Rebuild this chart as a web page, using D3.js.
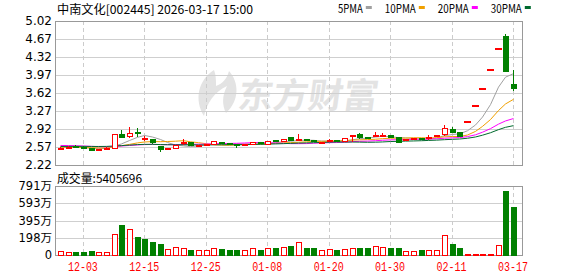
<html>
<head>
<meta charset="utf-8">
<script src="https://d3js.org/d3.v7.min.js"></script>
<style>
  body { margin: 0; background: #fff; }
  text { font-family: "DejaVu Sans", sans-serif; }
  .cjk { font-family: "Noto Sans CJK SC", sans-serif; }
</style>
</head>
<body>
<script>
// trading days shown (MM-DD)
const dates = ['11-28','12-01','12-02','12-03','12-04','12-05','12-08','12-09','12-10','12-11',
  '12-12','12-15','12-16','12-17','12-18','12-19','12-22','12-23','12-24','12-25',
  '12-26','12-29','12-30','12-31','01-05','01-06','01-07','01-08','01-09','01-12',
  '01-13','01-14','01-15','01-16','01-19','01-20','01-21','01-22','01-23','01-26',
  '01-27','01-28','01-29','01-30','02-02','02-03','02-04','02-05','02-06','02-09',
  '02-10','02-11','02-12','02-13','03-10','03-11','03-12','03-13','03-16','03-17'];

const opens = [2.53,2.55,2.58,2.57,2.54,2.50,2.53,2.55,2.81,2.77,
  2.86,2.73,2.72,2.58,2.53,2.55,2.64,2.65,2.58,2.60,
  2.62,2.65,2.64,2.62,2.60,2.62,2.66,2.62,2.69,2.68,
  2.75,2.70,2.72,2.69,2.64,2.69,2.69,2.68,2.77,2.81,
  2.76,2.77,2.79,2.79,2.75,2.70,2.72,2.74,2.74,2.79,
  2.81,2.91,2.85,3.06,3.36,3.70,4.07,4.48,4.71,3.78];
const highs = [2.57,2.58,2.60,2.58,2.55,2.54,2.57,2.82,2.90,2.95,
  2.93,2.78,2.73,2.59,2.55,2.60,2.72,2.66,2.60,2.63,
  2.69,2.66,2.65,2.63,2.63,2.67,2.67,2.68,2.71,2.73,
  2.77,2.82,2.73,2.70,2.66,2.72,2.70,2.74,2.80,2.84,
  2.77,2.86,2.85,2.80,2.76,2.73,2.75,2.75,2.80,2.81,
  3.00,2.95,2.86,3.06,3.36,3.70,4.07,4.48,4.77,4.07];
const lows = [2.51,2.54,2.55,2.54,2.49,2.49,2.52,2.54,2.75,2.74,
  2.77,2.68,2.63,2.47,2.52,2.54,2.61,2.58,2.57,2.59,
  2.61,2.62,2.61,2.56,2.59,2.61,2.63,2.60,2.66,2.67,
  2.69,2.69,2.68,2.66,2.63,2.68,2.67,2.67,2.66,2.73,
  2.74,2.76,2.78,2.75,2.65,2.69,2.71,2.72,2.70,2.77,
  2.78,2.85,2.77,3.06,3.36,3.70,4.07,4.48,4.02,3.65];
const closes = [2.55,2.56,2.57,2.55,2.50,2.53,2.55,2.81,2.76,2.83,
  2.84,2.73,2.66,2.52,2.54,2.59,2.65,2.59,2.59,2.62,
  2.67,2.64,2.62,2.60,2.62,2.66,2.64,2.67,2.68,2.72,
  2.70,2.72,2.69,2.67,2.65,2.70,2.68,2.73,2.79,2.76,
  2.75,2.79,2.80,2.76,2.66,2.72,2.74,2.73,2.75,2.80,
  2.93,2.86,2.78,3.06,3.36,3.70,4.07,4.48,4.03,3.70];
// closes before the visible window, needed for the moving averages
const prevCloses = [2.52,2.55,2.53,2.56,2.54,2.51,2.55,2.57,2.53,2.54,
  2.60,2.64,2.66,2.62,2.65,2.61,2.63,2.64,2.62,2.63,
  2.60,2.58,2.59,2.57,2.56,2.57,2.55,2.56,2.57];

// volume in 万 shares, and colour of each volume bar (r = up, g = down)
const volumes = [35,25,28,28,38,25,25,230,333,287,
  206,172,149,126,65,84,76,57,46,46,
  73,65,57,50,46,73,57,76,69,88,
  92,149,80,69,54,65,57,65,76,80,
  69,99,88,69,69,42,42,46,57,57,
  225,115,80,8,6,7,8,111,733,540.5696];
const volDir = 'rrgggrrrgrggggrrrgrrrgggrrgrgrgrggrrgrrggrrggrrgrrrggrrrrrgg';

const priceTicks = [2.22,2.57,2.92,3.27,3.62,3.97,4.32,4.67,5.02];
const volTicks = [0,198,395,593,791];
const xTicks = ['12-03','12-15','12-25','01-08','01-20','01-30','02-11','03-17'];
const maNames = ['5PMA','10PMA','20PMA','30PMA'];
const maPeriods = [5,10,20,30];
const maColors = ['#a0a0a0','#f0a000','#ff00ff','#006a2e'];

const W = 578, H = 276;
const L = 55, R = 522, T1 = 21, B1 = 165, T2 = 186, B2 = 255;
const RED = '#ff0000', GREEN = '#008000';

const svg = d3.select('body').append('svg')
  .attr('width', W).attr('height', H);

const x = d3.scaleBand().domain(dates).range([56, 56 + 7.68 * dates.length]);
const cx = d => Math.round(x(d) + x.bandwidth() / 2) + 0.5;
const y = d3.scaleLinear().domain([2.22, 5.02]).range([B1, T1]);
const yv = d3.scaleLinear().domain([0, 791]).range([B2, T2]);

// watermark
const wm = svg.append('g').attr('fill', '#e3e3e3');
wm.append('path')
  .attr('d', 'M214,70 C198,80 194,100 204,116 C207,103 214,92 227,86 C222,96 222,105 226,113 C240,100 239,82 229,71 C227,79 222,84 216,86 C216,80 216,75 214,70 Z');
wm.append('text').attr('class', 'cjk')
  .attr('x', 238).attr('y', 108)
  .attr('font-size', 35).attr('font-weight', 'bold')
  .attr('transform', 'skewX(-8) translate(14,0)')
  .style('font-family', '"Noto Sans CJK SC"')
  .text('东方财富');

// horizontal grid
svg.append('g').selectAll('line')
  .data(priceTicks.slice(1, -1)).join('line')
  .attr('x1', L).attr('x2', R)
  .attr('y1', d => Math.round(y(d)) + 0.5).attr('y2', d => Math.round(y(d)) + 0.5)
  .attr('stroke', '#cfcfcf');
svg.append('g').selectAll('line')
  .data(volTicks.slice(1, -1)).join('line')
  .attr('x1', L).attr('x2', R)
  .attr('y1', d => Math.round(yv(d)) + 0.5).attr('y2', d => Math.round(yv(d)) + 0.5)
  .attr('stroke', '#cfcfcf');

// vertical dashed grid
[[T1, B1], [T2, B2]].forEach(([t, b]) => {
  svg.append('g').selectAll('line')
    .data(xTicks).join('line')
    .attr('x1', d => cx(d)).attr('x2', d => cx(d))
    .attr('y1', t).attr('y2', b)
    .attr('stroke', '#cccccc').attr('stroke-dasharray', '4,3');
});

// plot frames
[[T1, B1], [T2, B2]].forEach(([t, b]) => {
  svg.append('rect')
    .attr('x', L + 0.5).attr('y', t + 0.5)
    .attr('width', R - L).attr('height', b - t)
    .attr('fill', 'none').attr('stroke', '#999');
});

// axes
const yAxis = d3.axisLeft(y).tickValues(priceTicks).tickSize(0).tickPadding(3)
  .tickFormat(d3.format('.2f'));
svg.append('g').attr('transform', `translate(${L},0)`).call(yAxis)
  .call(g => g.select('.domain').remove())
  .selectAll('text').attr('font-size', 12).attr('fill', '#000')
  .style('font-family', '"DejaVu Sans"');

const vAxis = d3.axisLeft(yv).tickValues(volTicks).tickSize(0).tickPadding(3)
  .tickFormat(d => d === 0 ? '0' : d + '万');
svg.append('g').attr('transform', `translate(${L},0)`).call(vAxis)
  .call(g => g.select('.domain').remove())
  .selectAll('text').attr('font-size', 11.5).attr('fill', '#000')
  .style('font-family', '"DejaVu Sans", "Noto Sans CJK SC"');

const xAxis = d3.axisBottom(x).tickValues(xTicks).tickSize(0).tickPadding(7);
svg.append('g').attr('transform', `translate(0,${B2})`).call(xAxis)
  .call(g => g.select('.domain').remove())
  .selectAll('text').attr('font-size', 12).attr('fill', RED)
  .attr('textLength', 30).attr('lengthAdjust', 'spacingAndGlyphs')
  .style('font-family', '"Liberation Mono", monospace');

// moving averages
const allCloses = prevCloses.concat(closes);
const off = prevCloses.length;
maPeriods.forEach((p, k) => {
  const ma = dates.map((d, i) => d3.mean(allCloses.slice(off + i - p + 1, off + i + 1)));
  svg.append('path')
    .datum(ma)
    .attr('fill', 'none').attr('stroke', maColors[k]).attr('stroke-width', 1)
    .attr('d', d3.line().x((v, i) => cx(dates[i])).y(v => y(v)));
});

// candles
const idx = d3.range(dates.length);
const up = i => closes[i] >= opens[i];
const flat = i => highs[i] === lows[i];
const cg = svg.append('g').attr('shape-rendering', 'crispEdges');
cg.selectAll('line').data(idx.filter(i => !flat(i))).join('line')
  .attr('x1', i => cx(dates[i])).attr('x2', i => cx(dates[i]))
  .attr('y1', i => y(highs[i])).attr('y2', i => y(lows[i]))
  .attr('stroke', i => up(i) ? RED : GREEN);
cg.selectAll('rect.body').data(idx.filter(i => !flat(i))).join('rect')
  .attr('class', 'body')
  .attr('x', i => cx(dates[i]) - 2.5)
  .attr('width', 5)
  .attr('y', i => y(Math.max(opens[i], closes[i])))
  .attr('height', i => Math.max(1, Math.abs(y(opens[i]) - y(closes[i]))))
  .attr('fill', i => up(i) ? '#fff' : GREEN)
  .attr('stroke', i => up(i) ? RED : GREEN);
// one-price (limit) days drawn as a flat dash
cg.selectAll('rect.dash').data(idx.filter(flat)).join('rect')
  .attr('class', 'dash')
  .attr('x', i => cx(dates[i]) - 3.5)
  .attr('width', 7)
  .attr('y', i => Math.round(y(closes[i])) - 1)
  .attr('height', 2)
  .attr('fill', RED);

// volume bars
svg.append('g').attr('shape-rendering', 'crispEdges')
  .selectAll('rect').data(idx).join('rect')
  .attr('x', i => cx(dates[i]) - 2.5)
  .attr('width', 5)
  .attr('y', i => Math.min(yv(volumes[i]), B2 - 1))
  .attr('height', i => Math.max(1, B2 - yv(volumes[i])))
  .attr('fill', i => volDir[i] === 'r' ? '#fff' : GREEN)
  .attr('stroke', i => volDir[i] === 'r' ? RED : GREEN);

// titles
svg.append('text').attr('class', 'cjk')
  .attr('x', 57).attr('y', 14).attr('font-size', 12)
  .attr('textLength', 196).attr('lengthAdjust', 'spacingAndGlyphs')
  .text('中南文化[002445] 2026-03-17 15:00');
svg.append('text').attr('class', 'cjk')
  .attr('x', 57).attr('y', 183).attr('font-size', 12)
  .attr('textLength', 85).attr('lengthAdjust', 'spacingAndGlyphs')
  .text('成交量:' + Math.round(volumes[volumes.length - 1] * 10000));

// legend
let lx = 338;
maNames.forEach((n, k) => {
  const tw = n.length * 6.2;
  svg.append('text')
    .attr('x', lx).attr('y', 13).attr('font-size', 11.5)
    .attr('textLength', tw).attr('lengthAdjust', 'spacingAndGlyphs')
    .style('font-family', '"Noto Sans CJK SC", sans-serif')
    .text(n);
  svg.append('rect')
    .attr('x', lx + tw + 3).attr('y', 6).attr('width', 6).attr('height', 3)
    .attr('fill', maColors[k]);
  lx += tw + 3 + 6 + 13;
});
</script>
</body>
</html>
